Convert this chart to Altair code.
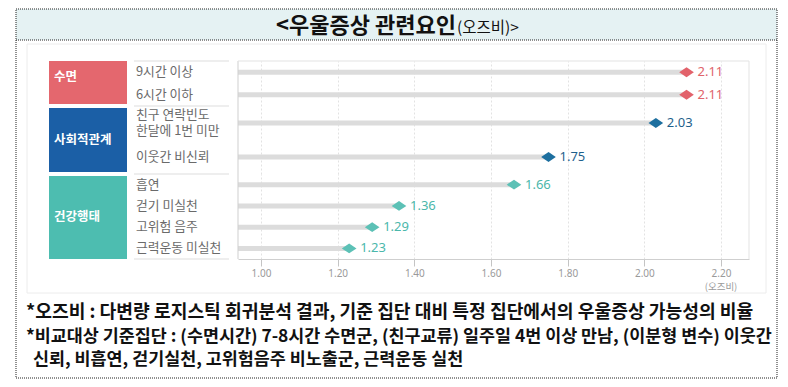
import altair as alt
import pandas as pd

# ---------------- data ----------------
group_names = ["수면", "사회적관계", "건강행태"]
groups = ["수면", "수면", "사회적관계", "사회적관계", "건강행태", "건강행태", "건강행태", "건강행태"]
labels = ["9시간 이상", "6시간 이하", "친구 연락빈도\n한달에 1번 미만", "이웃간 비신뢰",
          "흡연", "걷기 미실천", "고위험 음주", "근력운동 미실천"]
values = [2.11, 2.11, 2.03, 1.75, 1.66, 1.36, 1.29, 1.23]
tick_values = [1.0, 1.2, 1.4, 1.6, 1.8, 2.0, 2.2]
title_main = "<우울증상 관련요인"
title_sub = "(오즈비)>"
axis_unit = "(오즈비)"
notes = [
    "*오즈비 : 다변량 로지스틱 회귀분석 결과, 기준 집단 대비 특정 집단에서의 우울증상 가능성의 비율",
    "*비교대상 기준집단 : (수면시간) 7-8시간 수면군, (친구교류) 일주일 4번 이상 만남, (이분형 변수) 이웃간",
    "신뢰, 비흡연, 걷기실천, 고위험음주 비노출군, 근력운동 실천",
]

# ---------------- styles / layout ----------------
box_colors = ["#e4676e", "#1b5fa6", "#4dbdb0"]
mark_colors = ["#e2626b", "#1d6f9f", "#5cc1b6"]
text_colors = ["#e0646b", "#1e5f8c", "#4bb7ab"]
KR = "Noto Sans CJK KR"
NUM = "Noto Sans"
W = 511
panel_heights = [45, 68, 85]
box_text_y = [16, 34, 43]
note_sizes = [18.2, 17.4, 17.4]
note_dx = [0, 0, 7]
xscale = alt.Scale(domain=[0.94, 2.273], nice=False, zero=False)
DIAMOND = "M-1,0L0,-0.68L1,0L0,0.68Z"

df = pd.DataFrame({"group": groups, "label": labels, "value": values})
one = pd.DataFrame({"k": [0]})


def group_panel(gi):
    name = group_names[gi]
    h = panel_heights[gi]
    last = gi == len(group_names) - 1
    sub = df[df.group == name]
    yenc = alt.Y("label:N", sort=list(sub.label), axis=None)
    if last:
        xaxis = alt.Axis(values=tick_values, format=".2f", grid=True, gridDash=[2, 2],
                         gridColor="#e2e2e2", domainColor="#cfcfcf", tickColor="#c4c4c4",
                         tickSize=7, labelColor="#9a9a9a", labelFontSize=10, labelFont=NUM,
                         labelPadding=2, title=None)
    else:
        xaxis = alt.Axis(values=tick_values, grid=True, gridDash=[2, 2], gridColor="#e2e2e2",
                         labels=False, ticks=False, domain=False, title=None)
    base = alt.Chart(sub)
    bars = base.mark_rule(strokeWidth=5, color="#dcdcdc", strokeCap="butt").encode(
        x=alt.X("value:Q", scale=xscale, axis=xaxis), x2=alt.value(0), y=yenc)
    pts = base.mark_point(shape=DIAMOND, filled=True, size=215, opacity=1,
                          color=mark_colors[gi]).encode(x="value:Q", y=yenc)
    vals = base.mark_text(align="left", baseline="middle", dx=11, fontSize=13, font=NUM,
                          color=text_colors[gi]).encode(
        x="value:Q", y=yenc, text=alt.Text("value:Q", format=".2f"))
    lab_style = dict(align="left", baseline="middle", lineBreak="\n", lineHeight=16,
                     fontSize=12.8, font=KR, color="#6a6a6a")
    rowlab1 = base.transform_filter("indexof(datum.label, '\\n') < 0").mark_text(
        **lab_style).encode(x=alt.value(-102), y=yenc, text="label:N")
    rowlab2 = base.transform_filter("indexof(datum.label, '\\n') >= 0").mark_text(
        dy=-8, **lab_style).encode(x=alt.value(-102), y=yenc, text="label:N")
    c1 = alt.Chart(one)
    sep = c1.mark_rule(color="#dddddd").encode(x=alt.value(-104), x2=alt.value(-9), y=alt.value(0))
    left = c1.mark_rule(color="#cfcfcf").encode(x=alt.value(0), y=alt.value(0), y2=alt.value(h))
    right = c1.mark_rule(color="#e3e3e3").encode(x=alt.value(W), y=alt.value(0), y2=alt.value(h))
    box = c1.mark_rect(color=box_colors[gi]).encode(
        x=alt.value(-189), x2=alt.value(-111),
        y=alt.value(0 if gi == 0 else 2), y2=alt.value(h - 2 if gi < 2 else h))
    boxtxt = c1.mark_text(align="left", baseline="middle", fontSize=12.5, fontWeight="bold",
                          font=KR, color="white").encode(
        x=alt.value(-184), y=alt.value(box_text_y[gi]), text=alt.value(name))
    layers = [bars, box, boxtxt, sep, left, right, pts, vals, rowlab1, rowlab2]
    if gi == 0:
        top = c1.mark_rule(color="#e3e3e3").encode(x=alt.value(0), x2=alt.value(W), y=alt.value(0))
        layers.append(top)
    if last:
        sepb = c1.mark_rule(color="#dddddd").encode(x=alt.value(-104), x2=alt.value(-9),
                                                    y=alt.value(h))
        unit = c1.mark_text(fontSize=9.5, font=KR, color="#9a9a9a", baseline="middle").encode(
            x=alt.X(datum=2.2), y=alt.value(h + 28), text=alt.value(axis_unit))
        layers += [sepb, unit]
    return alt.layer(*layers).properties(width=W, height=h)


# title panel (with outer frame and inner panel)
c1 = alt.Chart(one)
band = c1.mark_rect(color="#e5f2f3").encode(
    x=alt.value(-222), x2=alt.value(539), y=alt.value(0), y2=alt.value(31))
inner = c1.mark_rect(fill="white", stroke="#ececec", strokeWidth=1).encode(
    x=alt.value(-211), x2=alt.value(528), y=alt.value(35), y2=alt.value(284))
frame = c1.mark_rect(fill=None, stroke="#222222", strokeDash=[1, 1], strokeWidth=1).encode(
    x=alt.value(-222), x2=alt.value(539), y=alt.value(0), y2=alt.value(369))
midline = c1.mark_rule(color="#222222", strokeDash=[1, 1]).encode(
    x=alt.value(-222), x2=alt.value(539), y=alt.value(31))
t1 = c1.mark_text(align="right", baseline="alphabetic", fontSize=22, fontWeight="bold",
                  font=KR, color="#111111").encode(
    x=alt.value(218), y=alt.value(24), text=alt.value(title_main))
t2 = c1.mark_text(align="left", baseline="alphabetic", fontSize=15.5, font=KR,
                  color="#111111").encode(
    x=alt.value(219), y=alt.value(24), text=alt.value(title_sub))
title_panel = alt.layer(band, inner, frame, midline, t1, t2).properties(width=W, height=52)

# footnote panel
ndf = pd.DataFrame({"i": list(range(len(notes))), "note": notes})
yfoot = alt.Y("i:O", axis=None, scale=alt.Scale(domain=[0, 1, 2], range=[54, 101], padding=0))
foot_layers = []
for k, fs in enumerate(note_sizes):
    foot_layers.append(
        alt.Chart(ndf).transform_filter(f"datum.i == {k}").mark_text(
            align="left", baseline="middle", fontSize=fs, fontWeight="bold", dx=note_dx[k],
            font=KR, color="#111111").encode(x=alt.value(-212), y=yfoot, text="note:N"))
foot_panel = alt.layer(*foot_layers).properties(width=W, height=119)

chart = alt.vconcat(title_panel, group_panel(0), group_panel(1), group_panel(2), foot_panel,
                    spacing=0, bounds="flush").properties(
    padding={"left": 7, "top": 0, "right": 0, "bottom": 0}, background="white"
).configure_view(stroke=None)

chart.save("out.html", embed_options={"renderer": "svg", "actions": False})
